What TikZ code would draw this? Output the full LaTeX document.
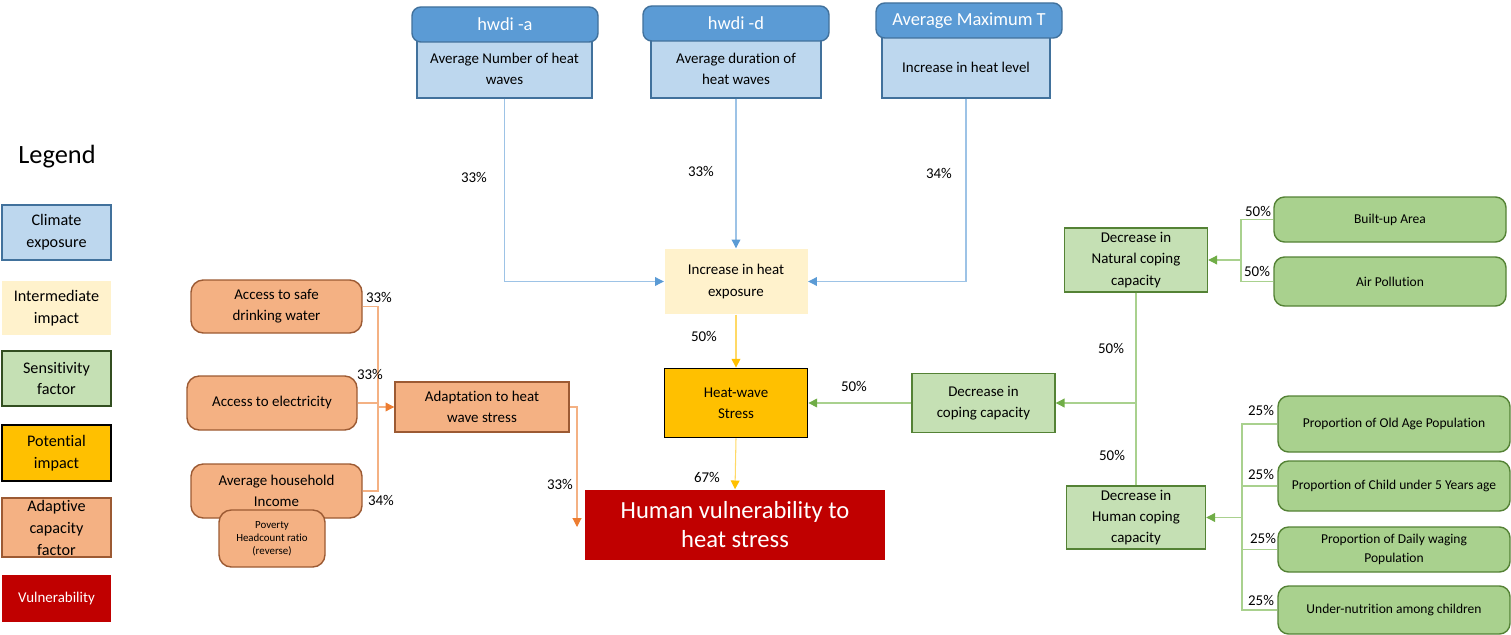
\documentclass[tikz,border=0pt]{standalone}
\usepackage{fontspec}
\setmainfont{Carlito}[Ligatures=NoCommon]
\usetikzlibrary{arrows.meta}

\definecolor{hwHead}{HTML}{5B9BD5}
\definecolor{hwBody}{HTML}{BDD7EE}
\definecolor{hwBorder}{HTML}{41719C}
\definecolor{blLine}{HTML}{9DC3E6}
\definecolor{cream}{HTML}{FFF2CC}
\definecolor{gold}{HTML}{FFC000}
\definecolor{ylLine}{HTML}{FFD966}
\definecolor{sensLight}{HTML}{C5E0B4}
\definecolor{sensMid}{HTML}{A9D18E}
\definecolor{sensDark}{HTML}{548235}
\definecolor{grArr}{HTML}{70AD47}
\definecolor{adLight}{HTML}{F4B183}
\definecolor{adDark}{HTML}{9C5A33}
\definecolor{orArr}{HTML}{ED7D31}
\definecolor{vulRed}{HTML}{C00000}

\begin{document}
\begin{tikzpicture}
  [x=0.02cm,y=-0.02cm,
   box/.style={draw,align=center,inner sep=1pt,line width=0.8pt,font=\fontsize{8.5}{12}\selectfont},
   wh/.style 2 args={minimum width=#1*0.02cm,minimum height=#2*0.02cm},
   head/.style={box,fill=hwHead,draw=hwBorder,rounded corners=5pt,text=white,font=\fontsize{10.5}{13}\selectfont},
   clim/.style={box,fill=hwBody,draw=hwBorder},
   mid/.style={box,fill=cream,draw=none},
   pot/.style={box,fill=gold,draw=black,line width=1pt},
   sens/.style={box,fill=sensLight,draw=sensDark},
   leaf/.style={box,fill=sensMid,draw=sensDark,rounded corners=6pt,font=\fontsize{7.7}{10.5}\selectfont},
   adap/.style={box,fill=adLight,draw=adDark,rounded corners=7pt},
   vul/.style={box,fill=vulRed,draw=none,text=white},
   lg/.style={font=\fontsize{9.2}{12.5}\selectfont},
   pct/.style={inner sep=0pt,font=\fontsize{8.5}{10}\selectfont},
   bline/.style={draw=blLine,line width=0.6pt},
   yline/.style={draw=ylLine,line width=0.6pt},
   gline/.style={draw=sensMid,line width=0.6pt},
   oline/.style={draw=adLight,line width=0.6pt},
   tip/.style={-{Triangle[length=5pt,width=5pt,color=#1]}}
  ]
  \useasboundingbox (0,0) rectangle (1511,635);

  % legend
  \node[font=\fontsize{15}{18}\selectfont] (legend) at (57,157) {Legend};
  \node[clim,lg,wh={109}{55}] (lgClim) at (56.5,232.5) {Climate\\exposure};
  \node[mid,lg,wh={109}{54}] (lgMid) at (56.5,308) {Intermediate\\impact};
  \node[sens,lg,draw=black!40!sensDark,wh={109}{55}] (lgSens) at (56.5,378.5) {Sensitivity\\factor};
  \node[pot,lg,wh={109}{56}] (lgPot) at (56.5,453) {Potential\\impact};
  \node[adap,lg,rounded corners=0pt,wh={109}{55}] (lgAdap) at (56.5,527.5) {Adaptive\\capacity\\factor};
  \node[vul,wh={109}{47}] (lgVul) at (56.5,598.5) {Vulnerability};

  % climate exposure
  \node[clim,wh={175}{58}] (bodyA) at (504.5,69) {Average Number of heat\\waves};
  \node[head,wh={186}{35}] (headA) at (505,24.5) {hwdi -a};
  \node[clim,wh={170}{58}] (bodyD) at (736,69) {Average duration of\\heat waves};
  \node[head,wh={186}{35}] (headD) at (736,23.5) {hwdi -d};
  \node[clim,wh={168}{62}] (bodyT) at (966,67) {Increase in heat level};
  \node[head,wh={186}{35}] (headT) at (969,20.5) {Average Maximum T};

  % centre column
  \node[mid,wh={143}{65}] (expo) at (736,281.5) {Increase in heat\\exposure};
  \node[pot,wh={143}{69}] (hws) at (736,403) {Heat-wave\\Stress};
  \node[vul,wh={300}{70},font=\fontsize{14}{16.5}\selectfont] (hv) at (735,525) {Human vulnerability to\\heat stress};

  % sensitivity
  \node[sens,wh={143}{59}] (cope) at (983.5,403) {Decrease in\\coping capacity};
  \node[sens,wh={143}{64}] (natural) at (1136,260) {Decrease in\\Natural coping\\capacity};
  \node[sens,wh={139}{63}] (human) at (1136,517.5) {Decrease in\\Human coping\\capacity};
  \node[leaf,wh={232}{45}] (built) at (1390,219.5) {Built-up Area};
  \node[leaf,wh={232}{49}] (air) at (1390,281.5) {Air Pollution};
  \node[leaf,wh={232}{56}] (old) at (1394,424) {Proportion of Old Age Population};
  \node[leaf,wh={232}{50}] (child) at (1394,486) {Proportion of Child under 5 Years age};
  \node[leaf,wh={232}{45}] (daily) at (1394,549.5) {Proportion of Daily waging\\Population};
  \node[leaf,wh={232}{48}] (under) at (1394,610) {Under-nutrition among children};

  % adaptive capacity
  \node[adap,wh={171}{53}] (water) at (276.5,306.5) {Access to safe\\drinking water};
  \node[adap,wh={170}{54}] (elec) at (272,403) {Access to electricity};
  \node[adap,wh={171}{54}] (income) at (276.5,491) {Average household\\Income};
  \node[adap,wh={106}{57},font=\fontsize{6.2}{7.5}\selectfont] (poverty) at (272,538.5) {Poverty\\Headcount ratio\\(reverse)};
  \node[adap,rounded corners=0pt,wh={174}{50}] (adapt) at (482,407) {Adaptation to heat\\wave stress};

  % junctions
  \coordinate (jAd) at (378,407);
  \coordinate (jVu) at (577,527);
  \coordinate (jNa) at (1241,260);
  \coordinate (jHu) at (1242,517.5);
  \coordinate (jCo) at (1136,403);

  % connectors
  \draw[bline,tip=hwHead] (bodyA.south) |- (expo.west);
  \draw[bline,tip=hwHead] (bodyD.south) -- (expo.north);
  \draw[bline,tip=hwHead] (bodyT.south) |- (expo.east);
  \draw[yline,tip=gold] (expo.south) -- (hws.north);
  \draw[yline,tip=gold] (hws.south) -- (hv.north);
  \draw[gline,tip=grArr] (cope.west) -- (hws.east);
  \draw[gline] (natural.south) -- (jCo);
  \draw[gline] (human.north) -- (jCo);
  \draw[gline,tip=grArr] (jCo) -- (cope.east);
  \foreach \n in {built,air}
    \draw[gline] (\n.west) -| (jNa);
  \draw[gline,tip=grArr] (jNa) -- (natural.east);
  \foreach \n in {old,child,daily,under}
    \draw[gline] (\n.west) -| (jHu);
  \draw[gline,tip=grArr] (jHu) -- (human.east);
  \foreach \n in {water,elec,income}
    \draw[oline] (\n.east) -| (jAd);
  \draw[oline,tip=orArr] (jAd) -- (adapt.west);
  \draw[oline,tip=orArr] (adapt.east) -| (jVu);

  % weights
  \node[pct] (pA) at (474,177) {33\%};
  \node[pct] (pD) at (701,171) {33\%};
  \node[pct] (pT) at (939,173) {34\%};
  \node[pct] (pExpo) at (704,336) {50\%};
  \node[pct] (pHws) at (707,477) {67\%};
  \node[pct] (pCope) at (854,386) {50\%};
  \node[pct] (pNat) at (1111,348) {50\%};
  \node[pct] (pHum) at (1112,455) {50\%};
  \node[pct] (pBuilt) at (1258,211) {50\%};
  \node[pct] (pAir) at (1257,271) {50\%};
  \node[pct] (pOld) at (1261,410) {25\%};
  \node[pct] (pChild) at (1261,474) {25\%};
  \node[pct] (pDaily) at (1263,538) {25\%};
  \node[pct] (pUnder) at (1261,600) {25\%};
  \node[pct] (pWater) at (379,297) {33\%};
  \node[pct] (pElec) at (370,374) {33\%};
  \node[pct] (pInc) at (381,500) {34\%};
  \node[pct] (pAdapt) at (560,484) {33\%};

\end{tikzpicture}
\end{document}
